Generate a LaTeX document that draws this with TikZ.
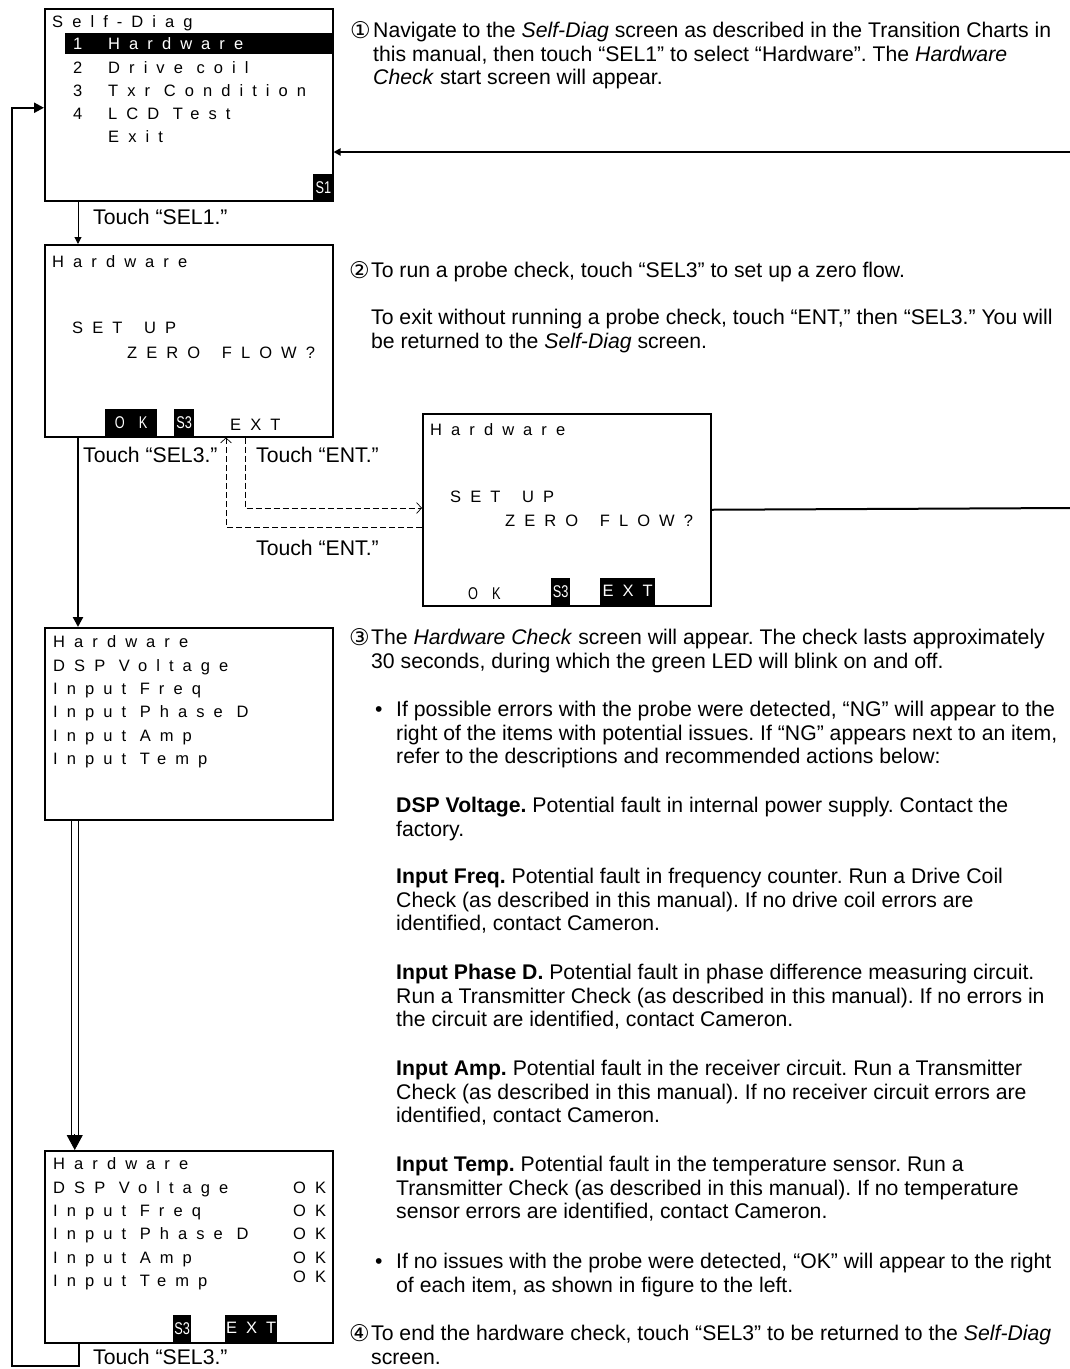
\documentclass[tikz,border=0pt]{standalone}
\usepackage{fontspec}
\setmainfont{Liberation Sans}
\newfontfamily\lcdfont[LetterSpace=55]{Liberation Sans}
\newfontfamily\keyfont[FakeStretch=0.75]{Liberation Sans}
\newfontfamily\circfont{DejaVu Sans}
\usetikzlibrary{arrows.meta,positioning}
\frenchspacing

\begin{document}
\begin{tikzpicture}[x=1pt, y=-1pt,
  screen/.style={draw, line width=1.5pt, anchor=north west, inner sep=0pt,
    minimum width=288pt, minimum height=192pt},
  lcd/.style={anchor=base west, inner sep=0pt, font=\lcdfont\fontsize{16.5}{20}\selectfont},
  softkey/.style={fill=black, text=white, inner sep=0pt, minimum height=27pt,
    anchor=south west, font=\keyfont\fontsize{17}{20}\selectfont},
  para/.style={anchor=north west, inner sep=0pt, align=left,
    font=\fontsize{21.2}{23.6}\selectfont},
  line/.style={anchor=base west, inner sep=0pt, font=\fontsize{21.2}{23.6}\selectfont},
  num/.style={anchor=base east, inner sep=0pt, font=\circfont\fontsize{23}{24}\selectfont},
  arr/.style={-{Triangle[length=10pt,width=10pt]}, line width=2.2pt},
  ent/.style={dash pattern=on 6pt off 3pt, -{Straight Barb[length=5pt,width=11pt]}, line width=0.7pt}
]
\useasboundingbox (0,0) rectangle (1070,1369);

% Self-Diag menu
\node[screen] (diag) at (44,8) {};
\node[fill=black, anchor=north west, inner sep=0pt, minimum width=267pt, minimum height=21pt] (hilite) at (65,33) {};
\node[lcd] (diagt) at (52,27) {Self-Diag};
\node[lcd, text=white] (d1n) at (73,49) {1};
\node[lcd, text=white] (d1) at (108,49) {Hardware};
\node[lcd] (d2n) at (73,73) {2};
\node[lcd] (d2) at (108,73) {Drive coil};
\node[lcd] (d3n) at (73,96) {3};
\node[lcd] (d3) at (108,96) {Txr Condition};
\node[lcd] (d4n) at (73,119) {4};
\node[lcd] (d4) at (108,119) {LCD Test};
\node[lcd] (d5) at (108,142) {Exit};
\node[softkey, anchor=south east, minimum width=20pt] (s1key) at (diag.south east) {S1};

% Hardware start screen
\node[screen] (hwa) at (44,244) {};
\node[lcd] (hwat) at (52,267) {Hardware};
\node[lcd] (hwas) at (72,333) {SET\hspace{8pt} UP};
\node[lcd] (hwaz) at (127,358) {ZERO\hspace{8pt} FLOW?};
\node[softkey, minimum width=52pt] (okkey) at (105,436) {O\hspace{14pt}K};
\node[softkey, minimum width=20pt] (s3a) at (174,436) {S3};
\node[lcd] (exta) at (230,430) {EXT};

% Hardware screen after ENT
\node[screen] (hwb) at (422,413) {};
\node[lcd] (hwbt) at (430,435) {Hardware};
\node[lcd] (hwbs) at (450,502) {SET\hspace{8pt} UP};
\node[lcd] (hwbz) at (505,526) {ZERO\hspace{8pt} FLOW?};
\node[anchor=base west, inner sep=0pt, font=\keyfont\fontsize{17}{20}\selectfont] (okb) at (468,599) {O\hspace{14pt}K};
\node[softkey, minimum width=19pt] (s3b) at (551,605) {S3};
\node[softkey, minimum width=55pt, font=\lcdfont\fontsize{16.5}{20}\selectfont] (extb) at (600,605) {EXT};

% check running
\node[screen] (hwc) at (44,627) {};
\node[lcd] (c0) at (53,647) {Hardware};
\node[lcd] (c1) at (53,671) {DSP Voltage};
\node[lcd] (c2) at (53,694) {Input Freq};
\node[lcd] (c3) at (53,717) {Input Phase D};
\node[lcd] (c4) at (53,741) {Input Amp};
\node[lcd] (c5) at (53,764) {Input Temp};

% check done
\node[screen] (hwd) at (44,1150) {};
\node[lcd] (e0) at (53,1169) {Hardware};
\node[lcd] (e1) at (53,1193) {DSP Voltage};
\node[lcd] (e2) at (53,1216) {Input Freq};
\node[lcd] (e3) at (53,1239) {Input Phase D};
\node[lcd] (e4) at (53,1263) {Input Amp};
\node[lcd] (e5) at (53,1286) {Input Temp};
\node[lcd] (k1) at (293,1193) {OK};
\node[lcd] (k2) at (293,1216) {OK};
\node[lcd] (k3) at (293,1239) {OK};
\node[lcd] (k4) at (293,1263) {OK};
\node[lcd] (k5) at (293,1282) {OK};
\node[softkey, minimum width=18pt] (s3d) at (173,1342) {S3};
\node[softkey, minimum width=52pt, font=\lcdfont\fontsize{16.5}{20}\selectfont] (extd) at (225,1342) {EXT};

% connectors
\coordinate (rin) at (1070,152);
\coordinate (rout) at (1070,508);
\coordinate (back) at (12,1366);
\draw[-{Triangle[length=7pt,width=7pt]}, line width=2pt] (rin) -- (rin -| diag.east);
\draw[line width=2pt] (hwb.east) -- (rout);
\draw[-{Triangle[length=7pt,width=7pt]}, line width=1pt] ([xshift=34pt]diag.south west) -- ([xshift=34pt]hwa.north west);
\draw[arr] ([xshift=34pt]hwa.south west) -- ([xshift=34pt]hwc.north west);
\draw[line width=0.8pt] ([xshift=27.5pt]hwc.south west) -- ([xshift=27.5pt,yshift=14pt]hwd.north west);
\draw[line width=0.8pt] ([xshift=34pt]hwc.south west) -- ([xshift=34pt,yshift=14pt]hwd.north west);
\draw[-{Triangle[length=15pt,width=16pt]}, line width=0.8pt] ([xshift=30.75pt,yshift=16pt]hwd.north west) -- ([xshift=30.75pt]hwd.north west);
\draw[arr] ([xshift=35pt]hwd.south west) |- (back) |- ([yshift=-3pt]diag.west);
\draw[ent] ([xshift=201pt]hwa.south west) |- ([yshift=-95pt]hwb.north west);
\draw[ent] ([yshift=-114pt]hwb.north west) -| ([xshift=182pt]hwa.south west);

% touch labels
\node[line] (t1) at (93,224) {Touch “SEL1.”};
\node[line] (t2) at (83,462) {Touch “SEL3.”};
\node[line] (t3) at (256,462) {Touch “ENT.”};
\node[line] (t4) at (256,555) {Touch “ENT.”};
\node[line] (t5) at (93,1364) {Touch “SEL3.”};

% step texts
\node[num] (n1) at (371,38) {①};
\node[para] (p1) at (373,22) {Navigate to the \textit{Self-Diag} screen as described in the Transition Charts in\\
  this manual, then touch “SEL1” to select “Hardware”. The \textit{Hardware}\\
  \textit{Check} start screen will appear.};
\node[num] (n2) at (370,278) {②};
\node[line] (p2) at (371,277) {To run a probe check, touch “SEL3” to set up a zero flow.};
\node[para] (p2b) at (371,309) {To exit without running a probe check, touch “ENT,” then “SEL3.” You will\\
  be returned to the \textit{Self-Diag} screen.};
\node[num] (n3) at (370,645) {③};
\node[para] (p3) at (371,629) {The \textit{Hardware Check} screen will appear. The check lasts approximately\\
  30 seconds, during which the green LED will blink on and off.};
\node[line] (b1) at (375,716) {•};
\node[para] (p3a) at (396,701) {If possible errors with the probe were detected, “NG” will appear to the\\
  right of the items with potential issues. If “NG” appears next to an item,\\
  refer to the descriptions and recommended actions below:};
\node[para] (p3b) at (396,797) {\textbf{DSP Voltage.} Potential fault in internal power supply. Contact the\\
  factory.};
\node[para] (p3c) at (396,868) {\textbf{Input Freq.} Potential fault in frequency counter. Run a Drive Coil\\
  Check (as described in this manual). If no drive coil errors are\\
  identified, contact Cameron.};
\node[para] (p3d) at (396,964) {\textbf{Input Phase D.} Potential fault in phase difference measuring circuit.\\
  Run a Transmitter Check (as described in this manual). If no errors in\\
  the circuit are identified, contact Cameron.};
\node[para] (p3e) at (396,1060) {\textbf{Input Amp.} Potential fault in the receiver circuit. Run a Transmitter\\
  Check (as described in this manual). If no receiver circuit errors are\\
  identified, contact Cameron.};
\node[para] (p3f) at (396,1156) {\textbf{Input Temp.} Potential fault in the temperature sensor. Run a\\
  Transmitter Check (as described in this manual). If no temperature\\
  sensor errors are identified, contact Cameron.};
\node[line] (b2) at (375,1268) {•};
\node[para] (p3g) at (396,1253) {If no issues with the probe were detected, “OK” will appear to the right\\
  of each item, as shown in figure to the left.};
\node[num] (n4) at (370,1341) {④};
\node[para] (p4) at (371,1325) {To end the hardware check, touch “SEL3” to be returned to the \textit{Self-Diag}\\
  screen.};
\end{tikzpicture}
\end{document}
